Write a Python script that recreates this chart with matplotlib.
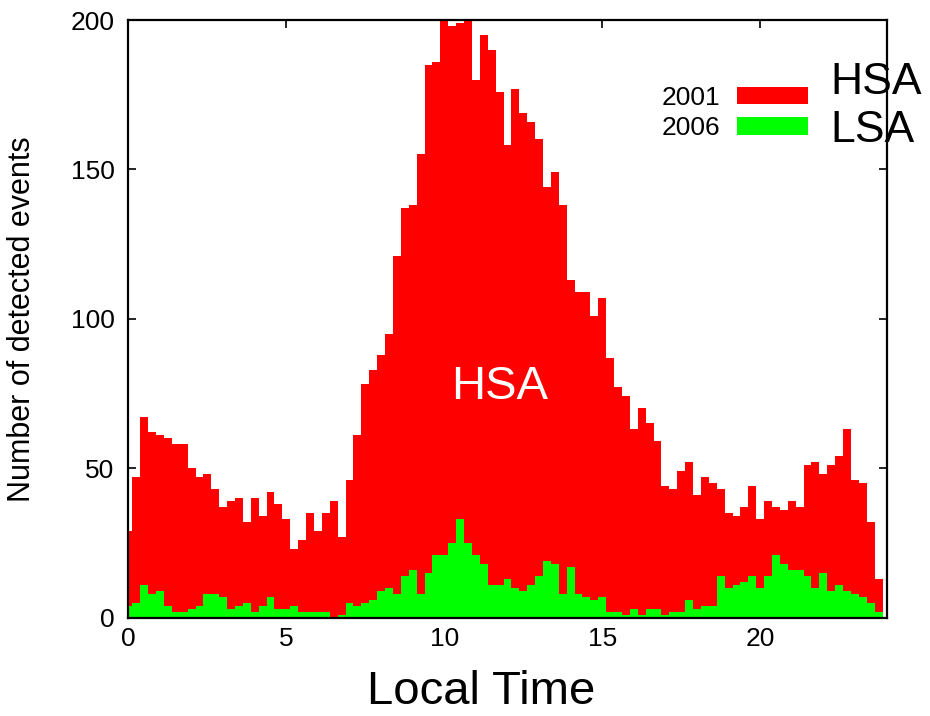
import matplotlib
matplotlib.use('Agg')
import matplotlib.pyplot as plt
import numpy as np

plt.rcParams['font.family'] = ['Liberation Sans', 'DejaVu Sans']

# 15-minute bins of local time (hours)
bin_width = 0.25
hsa_2001 = [29, 47, 67, 62, 61, 60, 58, 58, 50, 47, 48, 43, 37, 39, 40, 32,
            40, 34, 42, 38, 33, 23, 26, 35, 29, 35, 39, 27, 46, 61, 78, 83,
            88, 95, 121, 137, 138, 155, 185, 186, 200, 198, 199, 200, 180, 195, 190, 176,
            158, 177, 169, 166, 160, 144, 149, 138, 113, 109, 109, 101, 107, 87, 77, 74,
            63, 70, 65, 59, 44, 43, 49, 52, 41, 47, 45, 43, 35, 34, 37, 44,
            33, 39, 37, 36, 39, 37, 51, 52, 48, 51, 54, 63, 46, 45, 32, 13]
lsa_2006 = [4, 5, 11, 8, 9, 4, 2, 2, 3, 4, 8, 8, 7, 3, 4, 5,
            2, 4, 7, 3, 3, 4, 2, 2, 2, 2, 0, 1, 5, 4, 5, 6,
            9, 10, 8, 14, 16, 8, 15, 21, 21, 25, 33, 25, 21, 18, 11, 11,
            13, 10, 9, 11, 14, 19, 18, 8, 17, 8, 7, 6, 7, 2, 2, 1,
            3, 1, 3, 3, 1, 2, 2, 6, 3, 4, 4, 14, 10, 11, 12, 14,
            10, 14, 21, 18, 16, 16, 14, 10, 15, 9, 11, 9, 8, 7, 5, 2]
local_time = np.arange(len(hsa_2001)) * bin_width

x_ticks = [0, 5, 10, 15, 20]
y_ticks = [0, 50, 100, 150, 200]

W, H = 930, 716
fig = plt.figure(figsize=(W / 100, H / 100), dpi=100)
L, R, T, B = 128.4, 886.5, 20.0, 617.5
ax = fig.add_axes([L / W, 1 - B / H, (R - L) / W, (B - T) / H])

ax.bar(local_time, hsa_2001, width=bin_width, color='#ff0000', linewidth=0,
       label='2001', zorder=2)
ax.bar(local_time, lsa_2006, width=bin_width, color='#00ff00', linewidth=0,
       label='2006', zorder=3)

ax.set_xlim(0, 24)
ax.set_ylim(0, 200)
ax.set_xticks(x_ticks)
ax.set_yticks(y_ticks)
ax.tick_params(direction='in', length=6, width=1.2, top=True, right=True,
               labelsize=19, colors='black')
ax.tick_params(axis='y', pad=10)
ax.tick_params(axis='x', pad=7)
for s in ax.spines.values():
    s.set_linewidth(1.6)
    s.set_zorder(5)

ax.text(11.76, 77, 'HSA', color='white', fontsize=34, ha='center', va='center',
        zorder=6)

fs = 19
em = fs / 72 * 100
ax.legend(loc='upper right', bbox_to_anchor=(808 / W, 1 - 86 / H),
          bbox_transform=fig.transFigure, markerfirst=False, frameon=False,
          fontsize=fs, handlelength=71 / em, handleheight=17 / em,
          handletextpad=17 / em, labelspacing=0.24, borderpad=0, borderaxespad=0)

fig.text(830 / W, 1 - 83 / H, 'HSA', fontsize=32, ha='left', va='center')
fig.text(830 / W, 1 - 130 / H, 'LSA', fontsize=32, ha='left', va='center')

fig.text(22 / W, 1 - 319 / H, 'Number of detected events', fontsize=22,
         rotation=90, ha='center', va='center')
fig.text(481 / W, 1 - 692 / H, 'Local Time', fontsize=34, ha='center', va='center')

fig.savefig('out.png', dpi=100)
